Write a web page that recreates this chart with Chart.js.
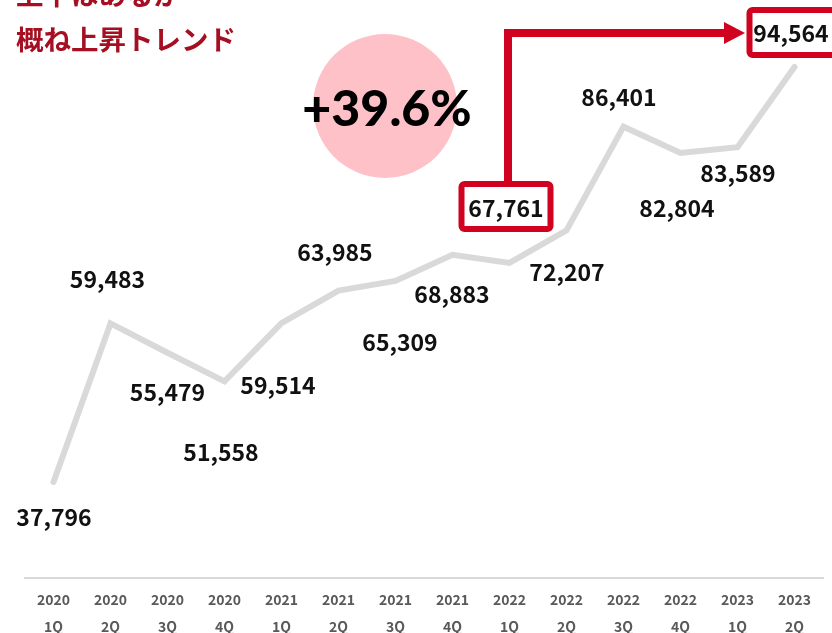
<!DOCTYPE html>
<html>
<head>
<meta charset="utf-8">
<script src="https://cdn.jsdelivr.net/npm/chart.js@4"></script>
<style>
  html, body { margin: 0; padding: 0; background: #fff; }
  #wrap { width: 832px; height: 633px; position: relative; }
</style>
</head>
<body>
<div id="wrap"><canvas id="myChart" width="832" height="633"></canvas></div>
<script>
'use strict'

// data
const years = ['2020','2020','2020','2020','2021','2021','2021','2021','2022','2022','2022','2022','2023','2023'];
const quarters = ['1Q','2Q','3Q','4Q','1Q','2Q','3Q','4Q','1Q','2Q','3Q','4Q','1Q','2Q'];
const sales = [37796, 59483, 55479, 51558, 59514, 63985, 65309, 68883, 67761, 72207, 86401, 82804, 83589, 94564];
const titleLines = ['上下はあるが', '概ね上昇トレンド'];
const growthText = '+39.6%';
const fromIndex = 8;   // 2022 1Q
const toIndex = 13;    // 2023 2Q

// where each value label sits relative to its point
const labelDx = [0.5, -3, 0, -3.5, -3.5, -3.5, 4.5, -0.5, -3.5, 0.5, -4.5, -3.5, 0.5, -3.5];
const labelDy = [35, -44, 40, 71, 62, -38, 61, 40, -55, 42, -29, 55, 26, -34];

const red = '#d0021f';
const labelFont = 'bold 23px "Noto Sans CJK JP", "Noto Sans", sans-serif';

let labels = [];
for (let i = 0; i < years.length; i++) {
  labels.push([years[i], quarters[i]]);
}

function labelPos(chart, i) {
  const pt = chart.getDatasetMeta(0).data[i];
  return { x: pt.x + labelDx[i], y: pt.y + labelDy[i] };
}

function drawBox(ctx, cx, cy) {
  const w = 89, h = 45;
  ctx.save();
  ctx.fillStyle = '#fff';
  ctx.strokeStyle = red;
  ctx.lineWidth = 6;
  ctx.beginPath();
  ctx.roundRect(cx - w / 2, cy - h / 2, w, h, 3);
  ctx.fill();
  ctx.stroke();
  ctx.restore();
}

const decorPlugin = {
  id: 'decor',
  beforeDatasetsDraw(chart) {
    const ctx = chart.ctx;
    // title
    ctx.save();
    ctx.fillStyle = '#a50f21';
    ctx.font = 'bold 27.5px "Noto Sans CJK JP", sans-serif';
    ctx.textAlign = 'left';
    ctx.textBaseline = 'middle';
    ctx.fillText(titleLines[0], 16, -5);
    ctx.fillText(titleLines[1], 16, 40);
    // growth bubble
    ctx.fillStyle = '#ffc1c8';
    ctx.beginPath();
    ctx.arc(385, 106, 72, 0, Math.PI * 2);
    ctx.fill();
    ctx.fillStyle = '#000';
    ctx.font = '900 50px Lato, "Noto Sans", sans-serif';
    ctx.textAlign = 'center';
    ctx.fillText(growthText, 387, 110);
    ctx.restore();
  },
  afterDatasetsDraw(chart) {
    const ctx = chart.ctx;
    const a = labelPos(chart, fromIndex);
    const b = labelPos(chart, toIndex);
    const boxA = { x: a.x, y: a.y - 1.5 };
    const boxB = { x: b.x + 3, y: b.y - 0.5 };

    // arrow from the first box to the last one
    ctx.save();
    ctx.strokeStyle = red;
    ctx.fillStyle = red;
    ctx.lineWidth = 8;
    ctx.lineJoin = 'miter';
    const ax = boxA.x + 2;
    const ay = b.y;
    const tipX = boxB.x - 47 - 2;
    ctx.beginPath();
    ctx.moveTo(ax, boxA.y - 22);
    ctx.lineTo(ax, ay);
    ctx.lineTo(tipX - 18, ay);
    ctx.stroke();
    ctx.beginPath();
    ctx.moveTo(tipX - 21, ay - 11);
    ctx.lineTo(tipX, ay);
    ctx.lineTo(tipX - 21, ay + 11);
    ctx.closePath();
    ctx.fill();
    ctx.restore();

    drawBox(ctx, boxA.x, boxA.y);
    drawBox(ctx, boxB.x, boxB.y);

    // value labels
    ctx.save();
    ctx.fillStyle = '#111';
    ctx.font = labelFont;
    ctx.textAlign = 'center';
    ctx.textBaseline = 'middle';
    for (let i = 0; i < sales.length; i++) {
      const p = labelPos(chart, i);
      ctx.fillText(sales[i].toLocaleString('en-US'), p.x, p.y);
    }
    ctx.restore();
  }
};

let ctx = document.getElementById('myChart').getContext('2d');
let myChart = new Chart(ctx, {
  type: 'line',
  data: {
    labels: labels,
    datasets: [{
      data: sales,
      borderColor: '#d9d9d9',
      borderWidth: 6,
      borderCapStyle: 'round',
      borderJoinStyle: 'miter',
      pointRadius: 0,
      tension: 0,
      fill: false
    }]
  },
  options: {
    responsive: false,
    animation: false,
    layout: { padding: { left: 25, right: 9, top: 0, bottom: 0 } },
    plugins: {
      legend: { display: false },
      tooltip: { enabled: false }
    },
    scales: {
      x: {
        offset: true,
        grid: { display: false, drawTicks: false },
        border: { display: true, color: '#d9d9d9', width: 2 },
        ticks: {
          color: '#595959',
          padding: 8,
          maxRotation: 0,
          autoSkip: false,
          font: { family: '"Noto Sans CJK JP", "Noto Sans", sans-serif', size: 14, weight: '600', lineHeight: 1.93 }
        },
        afterFit(scale) { scale.height = 55; }
      },
      y: {
        display: false,
        min: 24663,
        max: 103727
      }
    }
  },
  plugins: [decorPlugin]
});
</script>
</body>
</html>
